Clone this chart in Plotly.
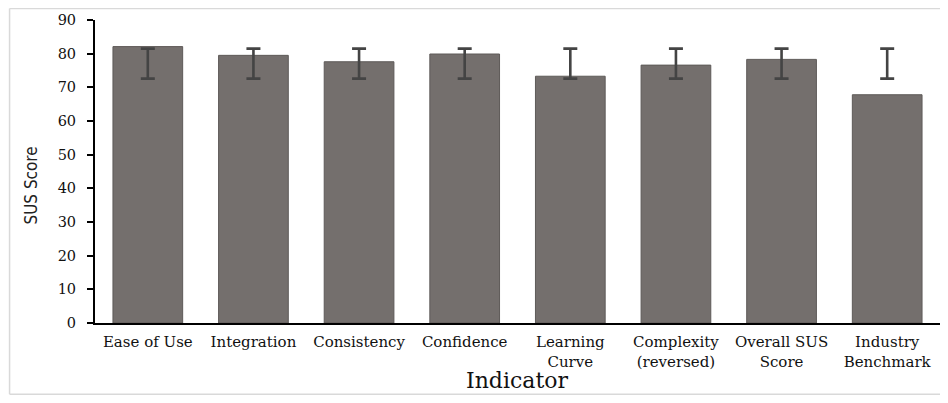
import plotly.graph_objects as go

categories = ["Ease of Use", "Integration", "Consistency", "Confidence",
              "Learning<br>Curve", "Complexity<br>(reversed)", "Overall SUS<br>Score",
              "Industry<br>Benchmark"]
scores = [82.1, 79.5, 77.6, 79.9, 73.3, 76.6, 78.3, 67.8]
err_low = [72.6, 72.6, 72.6, 72.6, 72.6, 72.6, 72.6, 72.6]
err_high = [81.5, 81.5, 81.5, 81.5, 81.5, 81.5, 81.5, 81.5]
y_ticks = [0, 10, 20, 30, 40, 50, 60, 70, 80, 90]

mid = [(a + b) / 2 for a, b in zip(err_low, err_high)]
half = [(b - a) / 2 for a, b in zip(err_low, err_high)]

fig = go.Figure()
fig.add_trace(go.Bar(
    x=categories, y=scores,
    marker=dict(color="#746f6d", line=dict(color="#5e5a58", width=1)),
    showlegend=False, hoverinfo="y",
))
fig.add_trace(go.Scatter(
    x=categories, y=mid, mode="markers",
    marker=dict(size=1, color="rgba(0,0,0,0)"),
    error_y=dict(type="data", array=half, symmetric=True,
                 color="#444444", thickness=2.6, width=7),
    showlegend=False, hoverinfo="skip",
))

frame = dict(type="line", xref="paper", yref="paper",
             line=dict(color="#d9d9d9", width=1.5), layer="below")

# page body has an 8px margin; figure sized so the page does not overflow
fig.update_layout(
    width=932, height=387,
    margin=dict(l=87.4, r=0, t=12, b=72),
    paper_bgcolor="white", plot_bgcolor="white",
    bargap=0.34,
    font=dict(family="DejaVu Serif", color="#111111"),
    xaxis=dict(
        showline=True, linecolor="black", linewidth=2, automargin=False,
        ticks="", showgrid=False, ticklabelstandoff=4,
        tickfont=dict(family="DejaVu Serif", size=15, color="#111111"),
    ),
    yaxis=dict(
        range=[0, 90], tickvals=y_ticks, showgrid=False, zeroline=False,
        showline=True, linecolor="black", linewidth=2, automargin=False,
        ticks="outside", ticklen=6, tickwidth=2, tickcolor="black",
        ticklabelstandoff=8,
        tickfont=dict(family="DejaVu Serif", size=14.5, color="#111111"),
    ),
    annotations=[
        dict(text="SUS Score", xref="paper", yref="paper",
             x=-0.0751, y=0.452, xanchor="center", yanchor="middle",
             textangle=-90, showarrow=False,
             font=dict(family="DejaVu Sans Condensed, Liberation Sans Narrow, Liberation Sans",
                       size=17, color="#222222")),
        dict(text="Indicator", xref="paper", yref="paper",
             x=0.5, y=-0.2343, xanchor="center", yanchor="bottom",
             showarrow=False, borderpad=0,
             font=dict(family="DejaVu Serif", size=22, color="#111111")),
    ],
    shapes=[
        dict(frame, x0=-0.1011, x1=-0.1011, y0=-0.2353, y1=1.038),
        dict(frame, x0=-0.1011, x1=1.05, y0=1.038, y1=1.038),
        dict(frame, x0=-0.1011, x1=1.05, y0=-0.2353, y1=-0.2353),
    ],
)

fig.write_html("out.html")
